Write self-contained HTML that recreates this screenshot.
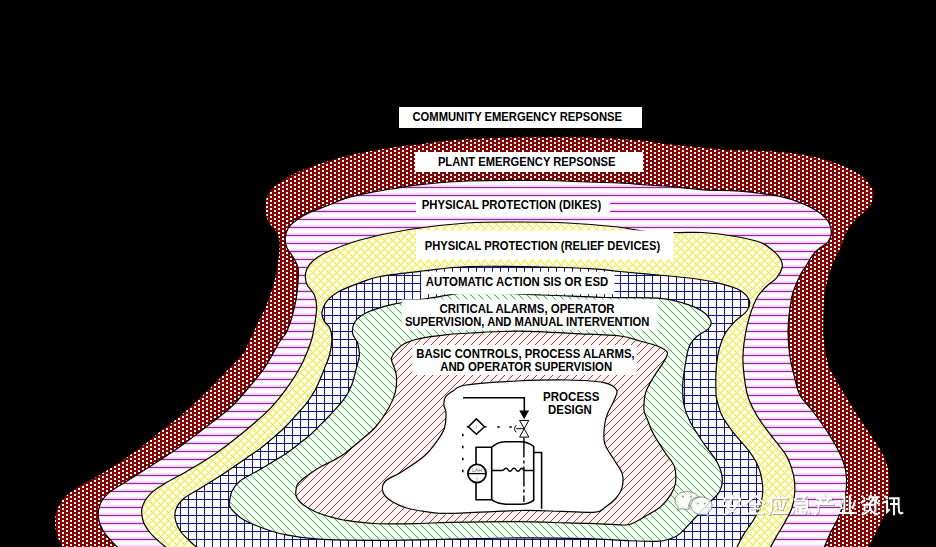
<!DOCTYPE html>
<html><head><meta charset="utf-8"><style>
html,body{margin:0;padding:0;background:#000;width:936px;height:547px;overflow:hidden}
svg{display:block}
text{font-family:"Liberation Sans",sans-serif;font-weight:bold;font-size:12px;fill:#000}
</style></head><body>
<svg width="936" height="547" viewBox="0 0 936 547">
<defs>
<pattern id="p1" width="8" height="4" patternUnits="userSpaceOnUse" x="0" y="0"><rect width="8" height="4" fill="#840404"/><rect x="6" y="0" width="2" height="2" fill="#fff"/><rect x="2" y="2" width="2" height="2" fill="#fff"/></pattern>
<pattern id="p2" width="8" height="8" patternUnits="userSpaceOnUse"><rect width="8" height="8" fill="#fffcff"/><rect x="0" y="0" width="8" height="1" fill="#fdf2fd"/><rect x="0" y="1" width="8" height="1" fill="#fae0fa"/><rect x="0" y="2" width="8" height="1" fill="#f3c2f3"/><rect x="0" y="3" width="8" height="1" fill="#8a3290"/><rect x="0" y="4" width="8" height="1" fill="#f6d6f6"/><rect x="0" y="5" width="8" height="1" fill="#fdf6fd"/></pattern>
<pattern id="p3" width="8" height="8" patternUnits="userSpaceOnUse"><rect width="8" height="8" fill="#ffffee"/><g fill="#f9f7b8"><rect x="0" y="1" width="1" height="1"/><rect x="0" y="7" width="1" height="1"/><rect x="1" y="2" width="1" height="1"/><rect x="1" y="0" width="1" height="1"/><rect x="2" y="3" width="1" height="1"/><rect x="2" y="1" width="1" height="1"/><rect x="3" y="4" width="1" height="1"/><rect x="3" y="2" width="1" height="1"/><rect x="4" y="5" width="1" height="1"/><rect x="4" y="3" width="1" height="1"/><rect x="5" y="6" width="1" height="1"/><rect x="5" y="4" width="1" height="1"/><rect x="6" y="7" width="1" height="1"/><rect x="6" y="5" width="1" height="1"/><rect x="7" y="0" width="1" height="1"/><rect x="7" y="6" width="1" height="1"/><rect x="0" y="1" width="1" height="1"/><rect x="0" y="7" width="1" height="1"/><rect x="1" y="0" width="1" height="1"/><rect x="1" y="6" width="1" height="1"/><rect x="2" y="7" width="1" height="1"/><rect x="2" y="5" width="1" height="1"/><rect x="3" y="6" width="1" height="1"/><rect x="3" y="4" width="1" height="1"/><rect x="4" y="5" width="1" height="1"/><rect x="4" y="3" width="1" height="1"/><rect x="5" y="4" width="1" height="1"/><rect x="5" y="2" width="1" height="1"/><rect x="6" y="3" width="1" height="1"/><rect x="6" y="1" width="1" height="1"/><rect x="7" y="2" width="1" height="1"/><rect x="7" y="0" width="1" height="1"/></g><g fill="#eeea58"><rect x="0" y="0" width="1" height="1"/><rect x="1" y="1" width="1" height="1"/><rect x="2" y="2" width="1" height="1"/><rect x="3" y="3" width="1" height="1"/><rect x="4" y="4" width="1" height="1"/><rect x="5" y="5" width="1" height="1"/><rect x="6" y="6" width="1" height="1"/><rect x="7" y="7" width="1" height="1"/><rect x="0" y="0" width="1" height="1"/><rect x="1" y="7" width="1" height="1"/><rect x="2" y="6" width="1" height="1"/><rect x="3" y="5" width="1" height="1"/><rect x="4" y="4" width="1" height="1"/><rect x="5" y="3" width="1" height="1"/><rect x="6" y="2" width="1" height="1"/><rect x="7" y="1" width="1" height="1"/></g><rect x="0" y="0" width="1" height="1" fill="#e8e040"/><rect x="4" y="4" width="1" height="1" fill="#e8e040"/></pattern>
<pattern id="p4" width="8" height="8" patternUnits="userSpaceOnUse"><rect width="8" height="8" fill="#fafaff"/><rect x="0" y="3" width="8" height="1" fill="#141480"/><rect x="4" y="0" width="1" height="8" fill="#141480"/></pattern>
<pattern id="p5" width="8" height="8" patternUnits="userSpaceOnUse"><rect width="8" height="8" fill="#f2fff2"/><g fill="#d8f4d8"><rect x="0" y="1" width="1" height="1"/><rect x="1" y="2" width="1" height="1"/><rect x="2" y="3" width="1" height="1"/><rect x="3" y="4" width="1" height="1"/><rect x="4" y="5" width="1" height="1"/><rect x="5" y="6" width="1" height="1"/><rect x="6" y="7" width="1" height="1"/><rect x="7" y="0" width="1" height="1"/></g><g fill="#5aa85a"><rect x="0" y="0" width="1" height="1"/><rect x="1" y="1" width="1" height="1"/><rect x="2" y="2" width="1" height="1"/><rect x="3" y="3" width="1" height="1"/><rect x="4" y="4" width="1" height="1"/><rect x="5" y="5" width="1" height="1"/><rect x="6" y="6" width="1" height="1"/><rect x="7" y="7" width="1" height="1"/></g></pattern>
<pattern id="p6" width="8" height="8" patternUnits="userSpaceOnUse"><rect width="8" height="8" fill="#fff3f3"/><g fill="#94404c"><rect x="0" y="7" width="1" height="1"/><rect x="1" y="6" width="1" height="1"/><rect x="2" y="5" width="1" height="1"/><rect x="3" y="4" width="1" height="1"/><rect x="4" y="3" width="1" height="1"/><rect x="5" y="2" width="1" height="1"/><rect x="6" y="1" width="1" height="1"/><rect x="7" y="0" width="1" height="1"/></g></pattern>
</defs>
<rect width="936" height="547" fill="#000"/>
<g stroke="#000" stroke-width="1.2">
<path d="M62.0,547.0 C61.2,545.3 58.2,540.5 57.0,537.0 C55.8,533.5 54.8,530.2 54.6,526.0 C54.4,521.8 54.4,516.5 55.7,512.0 C57.0,507.5 59.0,503.1 62.4,499.0 C65.8,494.9 70.4,491.4 76.0,487.6 C81.6,483.8 88.5,480.9 96.0,476.4 C103.5,471.9 113.2,465.9 121.0,460.7 C128.8,455.5 136.3,450.1 143.0,445.0 C149.7,439.9 155.0,434.8 161.0,430.0 C167.0,425.2 172.7,421.6 179.0,416.3 C185.3,411.0 192.7,404.3 199.0,398.3 C205.3,392.3 211.7,385.8 217.0,380.4 C222.3,375.0 226.8,370.1 231.0,365.7 C235.2,361.3 238.8,358.6 242.0,354.0 C245.2,349.4 247.3,343.8 250.0,338.3 C252.7,332.8 255.5,326.2 258.0,321.0 C260.5,315.8 263.0,311.7 265.0,307.0 C267.0,302.3 268.5,297.5 270.0,293.0 C271.5,288.5 272.8,284.7 274.0,280.0 C275.2,275.3 276.2,269.5 277.0,265.0 C277.8,260.5 278.2,257.0 278.5,253.0 C278.8,249.0 279.4,244.4 279.0,241.0 C278.6,237.6 277.8,235.4 276.0,232.3 C274.2,229.2 269.8,225.9 268.0,222.2 C266.2,218.5 265.3,214.2 265.0,210.2 C264.7,206.2 264.8,201.8 266.0,198.1 C267.2,194.4 268.7,191.3 272.0,188.0 C275.3,184.7 280.5,181.1 285.6,178.0 C290.7,174.9 297.0,171.8 302.7,169.3 C308.4,166.9 312.7,165.6 319.8,163.3 C326.9,161.0 337.0,157.7 345.5,155.6 C354.0,153.5 362.4,152.1 371.0,150.5 C379.6,148.9 388.8,147.3 397.0,146.2 C405.2,145.1 411.2,144.7 420.0,143.7 C428.8,142.7 440.0,140.9 450.0,140.0 C460.0,139.1 466.7,138.6 480.0,138.0 C493.3,137.4 512.5,136.8 530.0,136.6 C547.5,136.4 566.7,136.3 585.0,136.8 C603.3,137.3 627.3,138.6 640.0,139.6 C652.7,140.6 652.2,141.7 661.0,142.8 C669.8,143.9 682.3,144.9 693.0,146.0 C703.7,147.1 714.3,148.6 725.0,149.3 C735.7,150.0 746.2,149.5 757.0,150.0 C767.8,150.5 781.0,151.5 790.0,152.4 C799.0,153.3 804.7,154.3 811.0,155.6 C817.3,156.9 821.8,158.0 828.0,160.0 C834.2,162.0 842.2,164.9 848.0,167.6 C853.8,170.3 859.0,173.0 863.0,176.3 C867.0,179.6 870.2,184.0 872.0,187.3 C873.8,190.6 874.3,192.8 874.0,196.1 C873.7,199.4 872.2,203.7 870.0,207.0 C867.8,210.3 864.0,212.9 861.0,215.8 C858.0,218.7 854.6,221.3 852.0,224.6 C849.4,227.9 847.4,231.7 845.6,235.6 C843.8,239.5 842.8,243.9 841.0,248.0 C839.2,252.1 836.8,255.8 835.0,260.0 C833.2,264.2 831.5,268.0 830.0,273.0 C828.5,278.0 827.0,284.5 826.0,290.0 C825.0,295.5 824.6,300.7 824.3,306.0 C824.0,311.3 824.0,316.5 824.0,322.0 C824.0,327.5 823.5,331.8 824.3,339.0 C825.1,346.2 827.0,358.2 829.0,365.0 C831.0,371.8 833.8,374.9 836.6,380.0 C839.4,385.1 842.7,390.2 845.8,395.3 C848.9,400.4 851.4,404.9 855.0,410.5 C858.6,416.1 863.1,422.8 867.2,428.9 C871.3,435.0 876.1,441.6 879.4,447.2 C882.7,452.8 885.2,456.8 887.0,462.4 C888.8,468.0 889.8,474.4 890.0,481.0 C890.2,487.6 889.8,495.4 888.5,502.0 C887.2,508.6 884.9,514.4 882.4,520.5 C879.9,526.6 875.6,534.4 873.3,538.8 C871.0,543.2 869.5,545.6 868.7,547.0 L868.7,560 L62.0,560 Z" fill="url(#p1)"/>
<path d="M117.4,547.0 C116.5,546.1 114.2,544.2 111.8,541.4 C109.4,538.6 105.0,534.3 102.8,530.2 C100.5,526.1 98.7,521.2 98.3,516.7 C97.9,512.2 98.7,507.4 100.6,503.3 C102.5,499.2 105.1,495.9 109.6,492.1 C114.1,488.4 120.4,485.3 127.5,480.8 C134.6,476.3 143.6,470.7 152.2,465.1 C160.8,459.5 170.1,453.6 179.1,447.2 C188.1,440.8 197.4,433.6 206.0,427.0 C214.6,420.4 223.3,414.3 230.8,407.3 C238.3,400.3 245.6,391.1 251.0,384.9 C256.4,378.7 259.6,374.7 263.0,370.0 C266.4,365.3 268.4,361.4 271.2,356.6 C274.0,351.8 277.5,344.9 280.0,341.0 C282.5,337.1 284.1,336.7 286.0,333.0 C287.9,329.3 289.7,324.3 291.3,319.0 C292.9,313.7 294.6,307.2 295.7,301.4 C296.8,295.6 297.5,289.6 297.9,284.0 C298.3,278.4 298.8,272.4 298.0,268.0 C297.2,263.6 295.0,260.7 293.2,257.4 C291.4,254.1 288.3,251.2 287.0,248.0 C285.7,244.8 285.0,241.6 285.2,238.3 C285.4,235.0 286.4,231.2 288.2,228.2 C290.0,225.2 292.5,222.9 296.2,220.2 C299.9,217.5 304.9,214.7 310.3,212.2 C315.7,209.7 322.5,207.5 328.4,205.2 C334.3,202.9 338.4,200.5 345.5,198.4 C352.6,196.3 362.6,194.1 371.1,192.4 C379.7,190.7 388.7,189.4 396.8,188.1 C404.9,186.8 408.1,185.9 420.0,184.7 C431.9,183.5 447.5,181.7 468.0,181.0 C488.5,180.3 524.3,180.4 543.0,180.5 C561.7,180.6 566.5,181.2 580.0,181.7 C593.5,182.1 614.0,182.7 624.0,183.2 C634.0,183.7 632.0,183.9 640.0,184.5 C648.0,185.1 661.3,185.7 672.0,186.6 C682.7,187.5 693.3,189.1 704.0,189.8 C714.7,190.5 727.1,190.4 736.0,190.9 C744.9,191.4 750.3,192.1 757.5,193.0 C764.7,193.9 771.9,194.6 779.0,196.2 C786.1,197.8 793.9,200.1 800.3,202.6 C806.7,205.1 812.8,208.1 817.4,211.2 C822.0,214.3 825.7,217.4 828.0,221.0 C830.3,224.6 831.3,229.5 831.3,233.0 C831.3,236.5 830.0,239.4 828.0,242.0 C826.0,244.6 821.5,246.5 819.0,248.7 C816.5,250.9 814.9,252.1 812.7,255.0 C810.5,257.9 807.9,263.0 806.0,266.0 C804.1,269.0 803.1,269.5 801.3,273.0 C799.5,276.5 796.6,282.6 795.0,287.0 C793.4,291.4 792.5,292.2 791.4,299.2 C790.2,306.2 788.4,319.7 788.1,329.0 C787.8,338.3 788.6,346.8 789.7,355.0 C790.8,363.2 793.0,371.3 794.7,378.0 C796.4,384.7 797.1,389.9 800.0,395.3 C802.9,400.7 807.6,404.4 812.2,410.5 C816.8,416.6 822.9,424.8 827.5,431.9 C832.1,439.0 836.7,446.7 839.7,453.3 C842.8,459.9 844.8,465.0 845.8,471.6 C846.8,478.2 846.8,485.9 845.8,493.0 C844.8,500.1 842.2,507.8 839.7,514.4 C837.2,521.0 833.0,527.3 830.5,532.7 C828.0,538.1 825.4,544.6 824.4,547.0 L824.4,560 L117.4,560 Z" fill="url(#p2)"/>
<path d="M165.6,547.0 C164.5,546.1 161.5,543.8 158.9,541.4 C156.3,539.0 152.5,535.9 149.9,532.5 C147.3,529.1 144.5,525.3 143.2,521.2 C141.9,517.1 141.0,512.3 142.1,507.8 C143.2,503.3 146.0,498.4 149.9,494.3 C153.8,490.2 159.6,486.8 165.6,483.1 C171.6,479.4 177.6,476.8 185.8,471.9 C194.0,467.0 204.9,460.9 215.0,453.9 C225.1,446.9 237.1,437.5 246.5,429.7 C255.9,421.9 264.1,414.8 271.2,407.3 C278.3,399.8 283.9,392.4 289.1,384.9 C294.3,377.4 298.9,369.9 302.6,362.4 C306.3,354.9 309.4,347.2 311.5,340.0 C313.6,332.8 314.6,324.7 315.5,319.0 C316.4,313.3 316.8,309.8 316.6,305.8 C316.4,301.8 316.0,298.5 314.4,294.9 C312.8,291.2 308.2,287.6 306.7,283.9 C305.2,280.2 305.1,276.2 305.6,272.9 C306.2,269.6 307.9,266.6 310.0,264.0 C312.1,261.4 314.7,259.2 318.0,257.0 C321.3,254.8 322.7,253.8 329.7,251.0 C336.7,248.2 346.8,243.6 360.0,240.0 C373.2,236.4 391.2,232.3 409.0,229.5 C426.8,226.7 448.8,224.2 467.0,223.0 C485.2,221.8 501.2,222.0 518.0,222.0 C534.8,222.0 551.3,222.2 568.0,223.0 C584.7,223.8 605.5,225.7 618.0,227.0 C630.5,228.3 633.5,230.1 643.0,231.0 C652.5,231.9 665.1,232.2 675.0,232.5 C684.9,232.8 692.9,231.9 702.5,232.5 C712.1,233.1 722.9,234.4 732.5,236.0 C742.1,237.6 753.2,239.7 760.0,242.2 C766.8,244.7 769.7,248.0 773.2,250.9 C776.7,253.8 779.3,256.8 780.8,259.7 C782.3,262.6 782.7,265.0 782.0,268.0 C781.3,271.0 778.9,275.1 776.6,277.9 C774.3,280.7 771.1,282.0 768.0,285.0 C764.9,288.0 760.9,291.2 758.0,296.0 C755.1,300.8 752.6,307.2 750.5,313.5 C748.4,319.8 746.7,326.3 745.4,334.0 C744.1,341.7 742.9,351.1 742.9,359.6 C742.9,368.1 744.4,378.5 745.4,385.2 C746.4,391.9 747.1,394.9 749.1,400.0 C751.1,405.1 753.6,410.3 757.2,416.1 C760.8,421.9 765.7,428.2 770.6,434.9 C775.5,441.6 782.9,449.7 786.7,456.4 C790.5,463.1 792.1,469.4 793.5,475.2 C794.9,481.0 795.0,486.0 794.8,491.4 C794.6,496.8 793.9,502.1 792.1,507.5 C790.3,512.9 786.8,518.7 784.1,523.6 C781.4,528.5 778.2,533.2 776.0,537.1 C773.8,541.0 771.5,545.4 770.6,547.0 L770.6,560 L165.6,560 Z" fill="url(#p3)"/>
<path d="M197.1,547.0 C196.3,546.5 195.2,546.1 192.6,543.7 C190.0,541.3 184.2,536.2 181.4,532.5 C178.6,528.8 176.6,525.0 175.7,521.2 C174.8,517.5 174.4,513.7 175.7,510.0 C177.0,506.3 179.3,502.5 183.6,498.8 C187.9,495.1 194.4,492.1 201.5,487.6 C208.6,483.1 218.1,477.2 226.2,471.9 C234.3,466.6 244.2,459.6 250.0,455.6 C255.8,451.6 257.0,451.0 261.0,447.9 C265.0,444.8 269.9,440.6 274.1,437.0 C278.3,433.4 282.5,429.7 286.2,426.0 C289.9,422.3 292.9,418.6 296.1,415.0 C299.3,411.4 302.1,408.9 305.4,404.6 C308.6,400.3 312.5,395.0 315.6,389.2 C318.7,383.4 321.6,375.7 323.9,370.0 C326.2,364.3 328.2,360.2 329.5,355.0 C330.8,349.8 331.9,343.2 331.9,338.7 C331.9,334.2 331.0,330.7 329.7,327.8 C328.4,324.9 325.5,323.8 324.2,321.2 C322.9,318.6 321.4,315.9 322.0,312.4 C322.6,308.9 324.4,303.9 327.5,300.3 C330.6,296.7 335.3,293.4 340.7,290.5 C346.1,287.6 353.4,285.1 360.0,282.8 C366.6,280.5 369.8,278.4 380.0,276.5 C390.2,274.6 406.8,272.9 421.5,271.2 C436.2,269.6 447.8,267.2 468.0,266.5 C488.2,265.8 522.2,266.6 543.0,267.0 C563.8,267.4 580.2,268.0 593.0,268.8 C605.8,269.5 609.1,270.5 620.0,271.5 C630.9,272.5 645.6,273.8 658.4,275.0 C671.2,276.2 686.1,277.5 696.8,279.0 C707.5,280.5 715.1,282.2 722.4,284.1 C729.6,286.0 735.8,287.7 740.3,290.5 C744.8,293.3 748.2,297.3 749.3,300.7 C750.4,304.1 749.1,307.6 746.7,311.0 C744.4,314.4 738.8,317.4 735.2,321.2 C731.6,325.0 727.7,328.9 724.9,334.0 C722.1,339.1 720.0,345.5 718.5,351.9 C717.0,358.3 716.4,365.6 716.0,372.4 C715.6,379.2 715.9,388.3 716.0,392.9 C716.1,397.5 715.9,396.1 716.9,400.0 C717.9,403.9 719.5,410.7 722.2,416.1 C724.9,421.5 728.5,426.4 733.0,432.2 C737.5,438.0 744.9,445.3 749.1,451.1 C753.4,456.9 756.2,461.4 758.5,467.2 C760.8,473.0 762.1,480.2 762.6,486.0 C763.1,491.8 762.6,496.7 761.2,502.1 C759.9,507.5 757.4,512.8 754.5,518.2 C751.6,523.6 746.6,529.6 743.7,534.4 C740.8,539.2 738.1,544.9 737.0,547.0 L737.0,560 L197.1,560 Z" fill="url(#p4)"/>
<path d="M229.6,501.0 C230.0,498.5 230.3,494.3 232.0,491.0 C233.7,487.7 236.1,484.1 240.0,481.0 C243.9,477.9 250.2,475.2 255.5,472.1 C260.8,469.0 266.9,465.3 272.0,462.2 C277.1,459.1 281.6,456.5 286.2,453.4 C290.8,450.3 295.2,446.8 299.4,443.5 C303.6,440.2 307.8,437.0 311.5,433.7 C315.2,430.4 318.3,426.9 321.4,423.8 C324.5,420.7 326.4,419.1 330.1,415.0 C333.8,410.9 340.2,404.3 343.8,399.4 C347.4,394.5 349.5,390.3 351.5,385.4 C353.5,380.5 354.6,375.1 355.9,370.0 C357.2,364.9 359.1,359.5 359.4,355.0 C359.7,350.5 358.6,346.7 357.5,343.0 C356.4,339.3 352.8,336.7 352.5,333.0 C352.2,329.3 353.0,324.5 355.6,321.0 C358.2,317.5 362.0,314.6 368.4,311.8 C374.8,309.0 383.3,306.5 394.0,304.1 C404.7,301.8 419.7,299.6 432.4,297.7 C445.1,295.8 451.6,293.1 470.0,292.6 C488.4,292.2 520.4,294.2 543.0,295.0 C565.6,295.8 586.3,297.0 605.5,297.5 C624.7,298.0 645.3,297.2 658.4,298.2 C671.5,299.2 676.8,301.2 684.0,303.3 C691.2,305.4 697.4,308.0 701.9,311.0 C706.4,314.0 709.8,318.2 710.9,321.2 C712.0,324.2 710.6,326.3 708.3,328.9 C705.9,331.4 700.0,333.5 696.8,336.5 C693.6,339.5 691.0,342.1 689.1,346.8 C687.2,351.5 686.4,358.3 685.3,364.7 C684.2,371.1 682.9,378.5 682.7,385.2 C682.5,391.9 682.8,398.9 684.0,405.0 C685.2,411.1 686.8,415.2 690.0,421.5 C693.2,427.8 698.9,436.3 703.4,443.0 C707.9,449.7 713.8,456.0 716.9,461.8 C720.0,467.6 721.8,473.0 722.2,477.9 C722.7,482.8 721.8,487.2 719.6,491.4 C717.4,495.6 713.1,498.6 709.0,503.0 C704.9,507.4 699.8,512.9 695.0,518.0 C690.2,523.1 684.1,530.1 680.0,533.6 C675.9,537.1 674.3,537.4 670.4,538.7 C666.5,540.0 664.8,541.0 656.8,541.3 C648.8,541.6 634.0,540.8 622.6,540.4 C611.2,540.0 605.5,539.1 588.4,538.7 C571.3,538.3 543.1,537.8 520.0,537.9 C496.9,538.0 474.2,538.8 450.0,539.2 C425.8,539.6 396.5,540.3 374.6,540.3 C352.7,540.3 333.4,540.1 318.5,539.2 C303.6,538.3 294.2,536.6 284.9,534.7 C275.5,532.8 269.2,530.5 262.4,528.0 C255.6,525.5 248.6,522.5 244.0,520.0 C239.4,517.5 237.4,515.3 235.0,513.0 C232.6,510.7 230.5,508.0 229.6,506.0 C228.7,504.0 229.2,503.5 229.6,501.0Z" fill="url(#p5)"/>
<path d="M295.8,491.5 C296.0,489.7 296.3,486.8 297.2,485.0 C298.1,483.2 299.0,482.4 301.1,480.5 C303.2,478.6 306.5,476.1 309.9,473.7 C313.3,471.3 317.7,468.5 321.6,466.3 C325.5,464.1 329.7,462.4 333.3,460.5 C336.9,458.6 340.3,456.8 343.5,454.6 C346.7,452.4 349.4,449.7 352.3,447.3 C355.2,444.9 357.2,443.5 361.1,440.0 C365.1,436.5 371.4,431.9 376.0,426.5 C380.6,421.1 385.7,413.4 388.9,407.7 C392.1,402.0 394.0,397.5 395.3,392.4 C396.6,387.3 396.7,381.3 396.5,377.0 C396.3,372.7 394.9,369.8 394.0,366.8 C393.1,363.8 391.2,361.7 391.4,359.1 C391.6,356.5 393.2,354.0 395.3,351.4 C397.4,348.8 400.1,345.8 404.2,343.7 C408.2,341.6 412.8,340.1 419.6,338.6 C426.4,337.1 436.8,335.7 445.2,334.8 C453.6,333.9 457.9,333.6 470.0,333.0 C482.1,332.4 499.6,331.1 518.0,331.2 C536.4,331.4 563.5,333.0 580.5,333.8 C597.5,334.5 610.1,334.8 620.0,336.0 C629.9,337.2 633.7,339.3 640.0,341.0 C646.3,342.7 653.4,344.3 658.0,346.2 C662.6,348.2 666.5,349.9 667.4,352.5 C668.3,355.1 665.9,357.9 663.5,362.1 C661.1,366.3 656.3,372.4 653.3,377.5 C650.3,382.6 647.1,387.5 645.6,392.9 C644.1,398.3 643.7,405.5 644.0,410.0 C644.3,414.5 646.0,416.0 647.6,420.0 C649.2,424.0 650.5,428.5 653.4,433.9 C656.3,439.3 661.5,447.1 665.0,452.5 C668.5,457.9 672.5,461.4 674.3,466.4 C676.0,471.4 676.1,477.9 675.5,482.7 C674.9,487.5 672.9,491.0 670.4,495.1 C667.9,499.2 664.2,503.7 660.2,507.1 C656.2,510.5 651.1,512.9 646.5,515.6 C641.9,518.3 636.8,521.7 632.8,523.3 C628.8,524.9 630.0,525.0 622.6,525.0 C615.2,525.0 599.8,523.7 588.4,523.3 C577.0,522.9 565.6,522.8 554.2,522.5 C542.8,522.2 537.4,521.6 520.0,521.6 C502.6,521.6 466.8,522.1 450.0,522.4 C433.2,522.7 432.1,523.3 419.5,523.5 C406.9,523.7 387.3,524.1 374.6,523.5 C361.9,522.9 350.4,521.0 343.5,520.0 C336.6,519.0 337.4,518.7 333.3,517.6 C329.2,516.5 323.1,514.9 318.7,513.2 C314.3,511.5 310.2,509.2 307.0,507.3 C303.8,505.4 301.4,503.4 299.6,501.5 C297.8,499.6 296.8,497.7 296.2,496.0 C295.6,494.3 295.6,493.3 295.8,491.5Z" fill="url(#p6)"/>
<path d="M382.5,489.8 C382.1,486.8 382.6,483.8 385.8,480.8 C389.0,477.8 395.1,476.0 401.5,471.9 C407.9,467.8 418.0,461.4 424.0,456.2 C430.0,451.0 434.0,445.2 437.4,440.5 C440.8,435.8 443.1,432.6 444.5,428.0 C445.9,423.4 446.1,416.8 446.0,413.0 C445.9,409.2 444.0,407.8 443.9,405.2 C443.8,402.6 443.7,399.9 445.2,397.5 C446.7,395.1 449.4,393.2 452.9,391.1 C456.4,389.0 455.3,386.7 466.0,385.0 C476.7,383.3 500.0,381.8 517.0,381.0 C534.0,380.2 553.5,379.7 568.0,380.0 C582.5,380.3 595.9,380.9 604.0,382.6 C612.1,384.3 614.9,387.0 616.6,390.0 C618.3,393.0 615.5,396.6 614.0,400.5 C612.5,404.4 609.3,409.2 607.7,413.3 C606.1,417.4 605.1,420.0 604.6,425.0 C604.1,430.0 603.1,437.4 604.6,443.2 C606.1,448.9 611.0,454.5 613.9,459.5 C616.8,464.5 620.7,468.8 622.1,473.4 C623.5,478.0 623.2,483.1 622.1,487.3 C621.0,491.5 618.5,495.2 615.7,498.5 C612.9,501.8 608.9,504.8 605.5,507.1 C602.1,509.4 602.3,511.5 595.2,512.2 C588.1,512.9 575.2,511.7 562.7,511.4 C550.2,511.1 538.8,510.2 520.0,510.5 C501.2,510.8 464.9,513.1 450.0,513.4 C435.1,513.7 438.0,513.2 430.7,512.3 C423.4,511.4 413.1,510.1 406.0,507.8 C398.9,505.6 392.0,501.8 388.1,498.8 C384.2,495.8 382.9,492.8 382.5,489.8Z" fill="#fff"/>
</g>
<g fill="#fff">
<rect x="399" y="107" width="243" height="21"/><rect x="415" y="152" width="228" height="20"/><rect x="416" y="198" width="194" height="18"/><rect x="416" y="230.5" width="257.5" height="29"/><rect x="421.3" y="271.7" width="193.2" height="22.5"/><rect x="401.8" y="299.5" width="256.4" height="30.5"/><rect x="412.4" y="345" width="224.4" height="30"/>
</g>
<g style="opacity:0.999">
<text x="412.5" y="121" textLength="209.5" lengthAdjust="spacingAndGlyphs">COMMUNITY EMERGENCY REPSONSE</text><text x="437.9" y="166" textLength="177.5" lengthAdjust="spacingAndGlyphs">PLANT EMERGENCY REPSONSE</text><text x="421.7" y="209" textLength="179.5" lengthAdjust="spacingAndGlyphs">PHYSICAL PROTECTION (DIKES)</text><text x="424.7" y="249.7" textLength="235.5" lengthAdjust="spacingAndGlyphs">PHYSICAL PROTECTION (RELIEF DEVICES)</text><text x="425.8" y="286" textLength="182.5" lengthAdjust="spacingAndGlyphs">AUTOMATIC ACTION SIS OR ESD</text><text x="439.6" y="312.8" textLength="175" lengthAdjust="spacingAndGlyphs">CRITICAL ALARMS, OPERATOR</text><text x="404.9" y="326.2" textLength="244.5" lengthAdjust="spacingAndGlyphs">SUPERVISION, AND MANUAL INTERVENTION</text><text x="416.2" y="357.5" textLength="218.5" lengthAdjust="spacingAndGlyphs">BASIC CONTROLS, PROCESS ALARMS,</text><text x="440.2" y="371" textLength="172" lengthAdjust="spacingAndGlyphs">AND OPERATOR SUPERVISION</text><text x="543" y="401" textLength="56.5" lengthAdjust="spacingAndGlyphs">PROCESS</text><text x="548.1" y="413.8" textLength="43.7" lengthAdjust="spacingAndGlyphs">DESIGN</text>
</g>

<g fill="none" stroke="#000" stroke-width="1.6">
<path d="M463,397.8 H524.3 V412"/>
<path d="M491.7,447.2 H476 V499.7 H491.7"/>
<path d="M491.7,447.2 C495.5,443.5 500,441.7 506,441.7 H521 C526,441.7 530,443.5 533.7,446.5 V500.4 C530,503 526,504.2 521,504.2 H506 C500,504.2 495.5,502.5 491.7,499.7 Z"/>
<path d="M533.7,452.5 H541.6 V508.7"/>
<path d="M491.7,470.5 H502 q1.5,0 2.5,-1.5 q1.5,-1.8 3,0 q1,2.2 2.5,2.2 q1.5,0 2.5,-2.2 q1.5,-1.8 3,0 q1,2.2 2.5,2.2 q1.5,0 2.5,-2.2 q1.5,-1.5 2.5,0.2 q0.8,1.3 1.5,1.3 H533.7" stroke-width="1.4"/>
<path d="M476.4,418.9 L484.5,426.7 L476.4,434.3 L468.4,426.7 Z" stroke-width="1.5"/>
<path d="M466.8,426.7 H468.4 M484.5,426.7 H486.6" stroke-width="1.5"/>
<path d="M497.2,427 H499.8 M509.3,427 H511.8" stroke-width="1.6"/>
<path d="M462.8,433.7 V476" stroke-dasharray="2.6,9.4" stroke-width="1.6"/>
<path d="M523.9,437.6 V502" stroke-dasharray="20,3,3,3" stroke-width="1.4"/>
</g>
<path d="M519.3,410.6 H529.1 L524.2,419.2 Z" fill="#000"/>
<path d="M519.6,420.4 H528.8 L524.2,428.7 Z M519.6,437.1 H528.8 L524.2,428.7 Z" fill="#fff" stroke="#000" stroke-width="1"/>
<path d="M516.2,428.7 H524.2" stroke="#000" stroke-width="1"/>
<path d="M516.4,425.2 Q512.6,428.7 516.4,432.3" fill="none" stroke="#000" stroke-width="1"/>
<circle cx="477" cy="473.5" r="9.1" fill="#fff" stroke="#000" stroke-width="1.8"/>
<path d="M467.9,473.6 H486.1" stroke="#000" stroke-width="1.3"/>
<text x="477" y="471.6" text-anchor="middle" style="font-size:5.2px;fill:#666;font-weight:normal">LAH</text>
<text x="477" y="480.6" text-anchor="middle" style="font-size:5.5px;fill:#888;font-weight:normal">I</text>
<text x="476.4" y="428.9" text-anchor="middle" style="font-size:6px;fill:#888;font-weight:normal">I</text>

<g fill="none" stroke="#3a3a3a" stroke-width="2.4" stroke-opacity="0.4" stroke-linecap="square" transform="translate(0.7,0.7)"><path transform="translate(722.50,495.2) scale(0.98)" d="M10,0.5 L10.6,2.8 M2,6 L2,3.4 L18,3.4 L17.4,6 M8.5,5.5 L5,12.5 Q10,15 15.5,19 M14.5,8.5 Q12,16 2.5,19.5 M1,11 L19,11"/><path transform="translate(745.45,495.2) scale(0.98)" d="M10,0.3 L1,8 M10,0.3 L19,8 M5,9.2 L15,9.2 M6,13.6 L14,13.6 M10,9.2 L10,18.6 M2,18.6 L18,18.6"/><path transform="translate(768.40,495.2) scale(0.98)" d="M10.5,0.2 L11.2,2.6 M2.5,3.2 L19,3.2 M3.2,3.2 L3.2,12 Q3,16 0.8,19.5 M7.2,7.5 L8.6,13.5 M11.5,6.2 L12.4,14 M16.6,6.8 L14.2,14 M5,18.3 L19,18.3"/><path transform="translate(791.35,495.2) scale(0.98)" d="M7,0.2 L3.5,4.5 M6.5,1.6 L14,1.6 L12.3,4.2 M5,5.3 L16,5.3 L16,12.2 M6,8.7 L16,8.7 M4.5,12.2 L16,12.2 M2.5,14.5 L1,18 M5.2,13.8 L5.2,18.6 L13.5,18.6 L14.5,16.5 M9,14 L10.5,16.2 M16.2,14 L18.5,17.2"/><path transform="translate(814.30,495.2) scale(0.98)" d="M10,0.2 L10.7,2.6 M3,3.7 L17,3.7 M6.2,5 L7.6,8 M14,5 L12.4,8 M2,9 L19,9 M4.2,9 L4.2,14 Q4,17 1,19.5"/><path transform="translate(837.25,495.2) scale(0.98)" d="M7.2,1 L7.2,17.8 M12.8,1 L12.8,17.8 M2.5,6.2 L4.6,13 M18,6.2 L15.8,13 M1,18.2 L19,18.2"/><path transform="translate(860.20,495.2) scale(0.98)" d="M2,1.2 L4,3 M1.5,7.4 L4.4,5.6 M10.8,0.2 L9,4 M9.6,2 L18,2 L16.5,4.8 M13.2,2.4 Q12.5,6.5 9.5,8.6 M13.6,4.8 Q15.5,7.5 19,8.6 M4.5,9.8 L15.5,9.8 L15.5,15.6 M4.5,9.8 L4.5,15.6 M10,11 L10,15 M8.5,16 Q6,18.5 2.5,19.5 M11.5,16 Q14,18.5 17.5,19.5"/><path transform="translate(883.15,495.2) scale(0.98)" d="M2,1.2 L4,3.2 M0.8,7 L4,7 L4,17 L6,15 M7,3.2 L15.8,3.2 Q15.6,15 16.5,17.5 Q17.5,19 19.5,18 M8,9 L14,9 M11,3.2 L11,19.5"/></g>
<g fill="none" stroke="#fff" stroke-width="2.0" stroke-opacity="1" stroke-linecap="square"><path transform="translate(722.50,495.2) scale(0.98)" d="M10,0.5 L10.6,2.8 M2,6 L2,3.4 L18,3.4 L17.4,6 M8.5,5.5 L5,12.5 Q10,15 15.5,19 M14.5,8.5 Q12,16 2.5,19.5 M1,11 L19,11"/><path transform="translate(745.45,495.2) scale(0.98)" d="M10,0.3 L1,8 M10,0.3 L19,8 M5,9.2 L15,9.2 M6,13.6 L14,13.6 M10,9.2 L10,18.6 M2,18.6 L18,18.6"/><path transform="translate(768.40,495.2) scale(0.98)" d="M10.5,0.2 L11.2,2.6 M2.5,3.2 L19,3.2 M3.2,3.2 L3.2,12 Q3,16 0.8,19.5 M7.2,7.5 L8.6,13.5 M11.5,6.2 L12.4,14 M16.6,6.8 L14.2,14 M5,18.3 L19,18.3"/><path transform="translate(791.35,495.2) scale(0.98)" d="M7,0.2 L3.5,4.5 M6.5,1.6 L14,1.6 L12.3,4.2 M5,5.3 L16,5.3 L16,12.2 M6,8.7 L16,8.7 M4.5,12.2 L16,12.2 M2.5,14.5 L1,18 M5.2,13.8 L5.2,18.6 L13.5,18.6 L14.5,16.5 M9,14 L10.5,16.2 M16.2,14 L18.5,17.2"/><path transform="translate(814.30,495.2) scale(0.98)" d="M10,0.2 L10.7,2.6 M3,3.7 L17,3.7 M6.2,5 L7.6,8 M14,5 L12.4,8 M2,9 L19,9 M4.2,9 L4.2,14 Q4,17 1,19.5"/><path transform="translate(837.25,495.2) scale(0.98)" d="M7.2,1 L7.2,17.8 M12.8,1 L12.8,17.8 M2.5,6.2 L4.6,13 M18,6.2 L15.8,13 M1,18.2 L19,18.2"/><path transform="translate(860.20,495.2) scale(0.98)" d="M2,1.2 L4,3 M1.5,7.4 L4.4,5.6 M10.8,0.2 L9,4 M9.6,2 L18,2 L16.5,4.8 M13.2,2.4 Q12.5,6.5 9.5,8.6 M13.6,4.8 Q15.5,7.5 19,8.6 M4.5,9.8 L15.5,9.8 L15.5,15.6 M4.5,9.8 L4.5,15.6 M10,11 L10,15 M8.5,16 Q6,18.5 2.5,19.5 M11.5,16 Q14,18.5 17.5,19.5"/><path transform="translate(883.15,495.2) scale(0.98)" d="M2,1.2 L4,3.2 M0.8,7 L4,7 L4,17 L6,15 M7,3.2 L15.8,3.2 Q15.6,15 16.5,17.5 Q17.5,19 19.5,18 M8,9 L14,9 M11,3.2 L11,19.5"/></g>
<g stroke="#8a8a8a" stroke-width="1" fill="#fff" fill-opacity="0.85">
<path d="M686.5,491.6 C679.5,491.6 675,496 675,500.6 C675,503.3 676.4,505.5 678.6,507.1 L677.6,510.6 L681.6,508.6 C683,509 684.6,509.3 686.3,509.3 C687.3,509.3 688.4,509.2 689.3,509 C689,508 688.8,507 688.8,506 C688.8,500.9 693.5,497 699.4,497 C699.2,497 698.6,497 698.3,497 C697.1,493.9 692.3,491.6 686.5,491.6 Z"/>
<path d="M701.3,497 C695.5,497 690.8,500.8 690.8,505.8 C690.8,510.8 695.5,514.6 701.3,514.6 C702.6,514.6 703.8,514.4 705,514 L708.6,516 L707.8,512.8 C710.4,511.2 712,508.6 712,505.8 C712,500.8 707.1,497 701.3,497 Z"/>
</g>
<g fill="#9a9a9a"><circle cx="683" cy="496.5" r="1.1"/><circle cx="691" cy="496.5" r="1.1"/><circle cx="697.8" cy="503.5" r="0.9"/><circle cx="704.8" cy="503.5" r="0.9"/></g>
</svg>
</body></html>
